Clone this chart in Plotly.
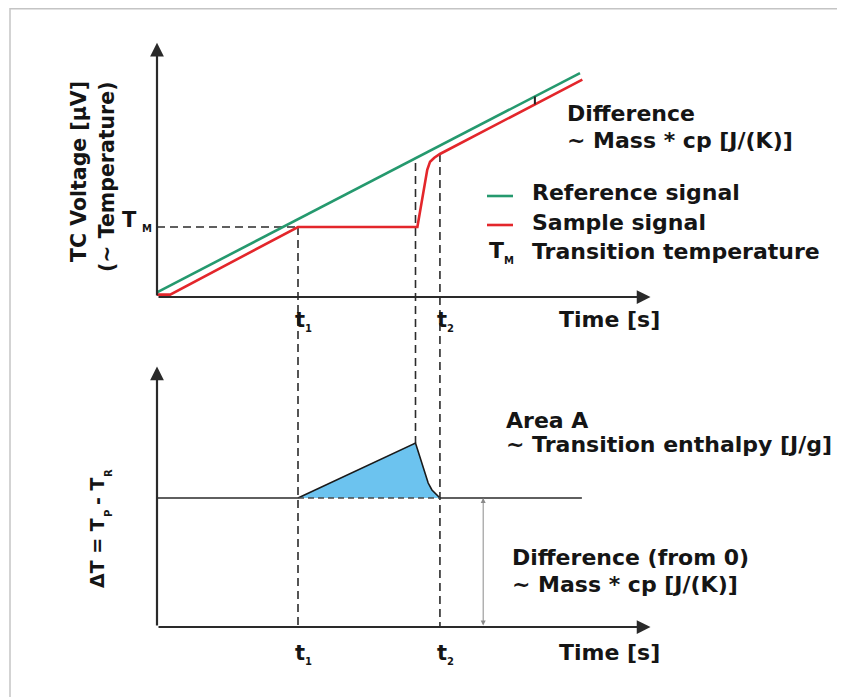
import plotly.graph_objects as go

# ---------------- data (schematic units) ----------------
# upper panel: time vs. TC voltage
ref_time = [0.0, 9.0]
ref_signal = [0.2, 9.6]
sample_time = [0.0, 0.28, 3.0, 5.54, 5.75, 5.81, 5.9, 6.02, 9.05]
sample_signal = [0.1, 0.1, 3.0, 3.0, 5.45, 5.8, 5.97, 6.13, 9.32]
T_M = 3.0
t1 = 3.0
t_onset = 5.5
t2 = 6.02
x_axis_end = 10.5
y_axis_end_top = 10.9

# lower panel: time vs. delta T
area_time = [3.0, 5.5, 5.77, 5.85, 6.02]
area_dT = [5.0, 7.13, 5.58, 5.31, 5.0]
baseline_dT = 5.0
baseline_end = 9.04
diff_arrow_time = 6.94
y_axis_end_bot = 10.1

tick_main = ["t", "t"]
tick_subs = ["1", "2"]

# ---------------- layout mapping (screen pixels -> axis units) ----------------
SW, SH = 845, 697           # browser window
OFF = 8                     # page body margin
W, H = SW - OFF, SH - OFF   # figure size
X0, XU = 157.0, 47.0        # x origin px, px per time unit
Y0, YU = 297.0, 23.33       # upper panel origin px, px per unit
Z0, ZU = 627.0, 25.8        # lower panel origin px, px per unit


def X(px):
    return (px - X0) / XU


def Y(py):
    return (Y0 - py) / YU


def Z(py):
    return (Z0 - py) / ZU


def y_of_z(z):
    return Y(Z0 - z * ZU)


AX = "#2a2a2a"
DASH = "#2b2b2b"
GREEN = "#25996e"
RED = "#e3262b"
BLUE = "#6cc3ef"
TXT = "#151515"
FONT = "DejaVu Sans"

fig = go.Figure()

# guide dashed lines
fig.add_trace(go.Scatter(x=[0, t1], y=[T_M, T_M], mode="lines",
                         line=dict(color=DASH, width=1.6, dash="8px,5px"),
                         hoverinfo="skip"))
ref_at_onset = ref_signal[0] + (ref_signal[1] - ref_signal[0]) / (ref_time[1] - ref_time[0]) * t_onset
for xv, ytop, ybot in [
    (t1, T_M, y_of_z(0)),
    (t_onset, ref_at_onset - 0.2, y_of_z(max(area_dT))),
    (t2, sample_signal[-2], y_of_z(0)),
]:
    fig.add_trace(go.Scatter(x=[xv, xv], y=[ytop, ybot], mode="lines",
                             line=dict(color=DASH, width=1.6, dash="8px,5px"),
                             hoverinfo="skip"))

# signals
fig.add_trace(go.Scatter(x=ref_time, y=ref_signal, mode="lines",
                         line=dict(color=GREEN, width=2.6), name="Reference signal"))
fig.add_trace(go.Scatter(x=sample_time, y=sample_signal, mode="lines",
                         line=dict(color=RED, width=2.6), name="Sample signal"))

# small difference mark between lines
mark_t = 8.04
g_mark = ref_signal[0] + (ref_signal[1] - ref_signal[0]) / 9.0 * mark_t
r_mark = sample_signal[-2] + (sample_signal[-1] - sample_signal[-2]) / (sample_time[-1] - sample_time[-2]) * (mark_t - sample_time[-2])
fig.add_trace(go.Scatter(x=[mark_t, mark_t], y=[r_mark, g_mark], mode="lines",
                         line=dict(color="#222", width=2), hoverinfo="skip"))

# lower panel: area
fig.add_trace(go.Scatter(x=area_time + [area_time[0]], y=area_dT + [area_dT[0]],
                         yaxis="y2", mode="lines", fill="toself", fillcolor=BLUE,
                         line=dict(width=0), hoverinfo="skip"))
fig.add_trace(go.Scatter(x=area_time, y=area_dT, yaxis="y2", mode="lines",
                         line=dict(color="#1a1a1a", width=1.6), hoverinfo="skip"))
# baseline
fig.add_trace(go.Scatter(x=[0, area_time[0]], y=[baseline_dT, baseline_dT], yaxis="y2",
                         mode="lines", line=dict(color=AX, width=1.6), hoverinfo="skip"))
fig.add_trace(go.Scatter(x=[area_time[-1], baseline_end], y=[baseline_dT, baseline_dT], yaxis="y2",
                         mode="lines", line=dict(color=AX, width=1.6), hoverinfo="skip"))
fig.add_trace(go.Scatter(x=[area_time[0], area_time[-1]], y=[baseline_dT, baseline_dT], yaxis="y2",
                         mode="lines", line=dict(color="#4a4a4a", width=1.4, dash="6px,4px"),
                         hoverinfo="skip"))

# legend line samples
leg_x = [X(487), X(513)]
fig.add_trace(go.Scatter(x=leg_x, y=[Y(196)] * 2, mode="lines",
                         line=dict(color=GREEN, width=2.6), hoverinfo="skip"))
fig.add_trace(go.Scatter(x=leg_x, y=[Y(225)] * 2, mode="lines",
                         line=dict(color=RED, width=2.6), hoverinfo="skip"))

ann = []


def arrow(x, y, ax_, ay_, yref, width=2.2, size=1.25, color=AX, side="end", head=2):
    ann.append(dict(x=x, y=y, ax=ax_, ay=ay_, xref="x", yref=yref, axref="x", ayref=yref,
                    showarrow=True, arrowhead=head, arrowsize=size, arrowwidth=width,
                    arrowcolor=color, arrowside=side, text="", standoff=0, startstandoff=0))


# axes with arrow heads
arrow(0, y_axis_end_top, 0, 0, "y")
arrow(x_axis_end, 0, 0, 0, "y")
arrow(0, y_axis_end_bot, 0, 0, "y2")
arrow(x_axis_end, 0, 0, 0, "y2")
# difference double arrow
arrow(diff_arrow_time, baseline_dT, diff_arrow_time, 0, "y2", width=1, size=1.0,
      color="#8a8a8a", side="end+start")


def text(s, px, py, size=22, xanchor="left", angle=0, yanchor="middle", bold=True):
    ann.append(dict(x=X(px), y=Y(py), xref="x", yref="y",
                    text=("<b>%s</b>" % s) if bold else s, showarrow=False,
                    xanchor=xanchor, yanchor=yanchor, textangle=angle,
                    font=dict(family=FONT, size=size, color=TXT)))


SUB = 10

text("Difference", 565, 113)
text("~ Mass * cp [J/(K)]", 565, 140)
text("Reference signal", 530, 192)
text("Sample signal", 530, 222)
text("T", 487, 250)
text("M", 502, 260, size=SUB)
text("Transition temperature", 530, 251)
# T_M level label
text("T", 139, 220, size=21, xanchor="right")
text("M", 140, 228, size=SUB)
# y titles
text("TC Voltage [μV]", 79, 172, size=20.5, xanchor="center", angle=-90)
text("(~ Temperature)", 107, 177, size=20.5, xanchor="center", angle=-90)

# time markers t1, t2 on both time axes
for m, s, tv in zip(tick_main, tick_subs, [t1, t2]):
    tx = X0 + tv * XU
    for py in (320, 653):
        text(m, tx - 5, py, size=21)
        text(s, tx + 5, py + 8, size=SUB)
text("Time [s]", 557, 319)
text("Time [s]", 557, 652)

text("Area A", 504, 420)
text("~ Transition enthalpy [J/g]", 504, 444)
text("Difference (from 0)", 510, 557)
text("~ Mass * cp [J/(K)]", 510, 584)

# rotated delta-T label built from pieces (bottom to top)
text("ΔT = T", 97, 553, size=19, xanchor="center", angle=-90)
text("P", 108, 514, size=SUB, xanchor="center", angle=-90)
text("- T", 97, 491, size=19, xanchor="center", angle=-90)
text("R", 108, 473, size=SUB, xanchor="center", angle=-90)

shapes = [
    dict(type="line", xref="paper", yref="paper", x0=(10 - OFF) / W, x1=1,
         y0=1 - 0.8 / H, y1=1 - 0.8 / H, line=dict(color="#c4c4c4", width=1.5)),
    dict(type="line", xref="paper", yref="paper", x0=(10 - OFF) / W, x1=(10 - OFF) / W,
         y0=0, y1=1, line=dict(color="#c4c4c4", width=1.5)),
]

fig.update_layout(
    width=W, height=H, autosize=False,
    margin=dict(l=0, r=0, t=0, b=0),
    paper_bgcolor="white", plot_bgcolor="white",
    showlegend=False,
    xaxis=dict(range=[X(OFF), X(SW)], visible=False, fixedrange=True),
    yaxis=dict(range=[Y(SH), Y(OFF)], visible=False, fixedrange=True),
    yaxis2=dict(range=[Z(SH), Z(OFF)], visible=False, fixedrange=True, overlaying="y"),
    annotations=ann,
    shapes=shapes,
)

fig.write_html("out.html")
